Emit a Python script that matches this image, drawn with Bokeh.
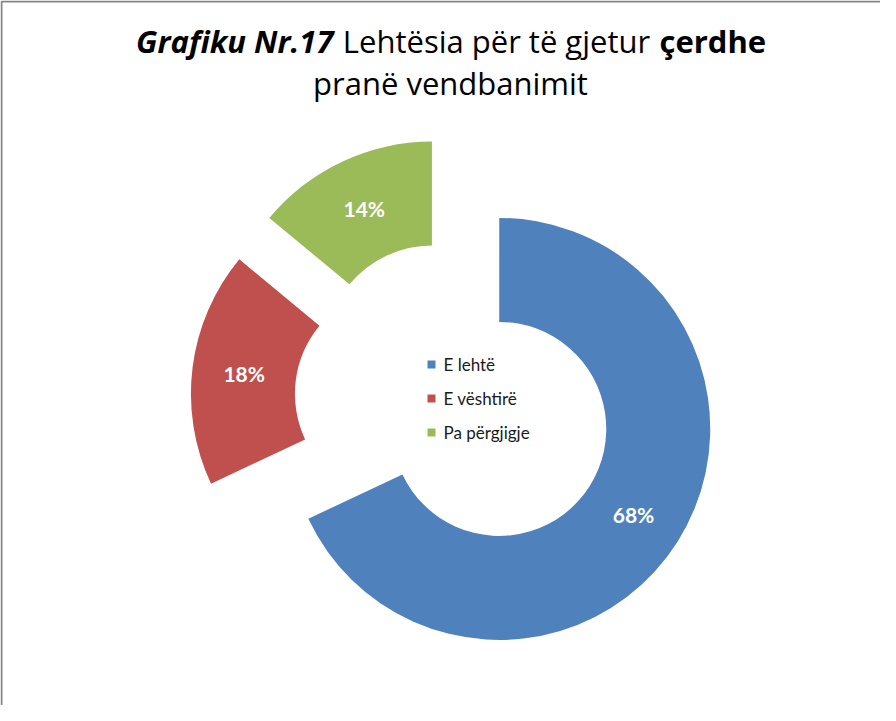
import numpy as np
from bokeh.plotting import figure
from bokeh.models import Range1d, ColumnDataSource
from bokeh.core.properties import value
from bokeh.embed import file_html
from bokeh.resources import INLINE

# ---- data ----
categories = ["E lehtë", "E vështirë", "Pa përgjigje"]
shares = [68, 18, 14]
pct_labels = ["68%", "18%", "14%"]
colors = ["#4F81BD", "#C0504D", "#9BBB59"]
title_parts = ["Grafiku Nr.17", "Lehtësia për të gjetur", "çerdhe"]
title_line2 = "pranë vendbanimit"

W, H = 880, 705
TOP = 721  # data y = TOP - screen y

p = figure(width=W, height=H, output_backend="svg", toolbar_location=None,
           x_range=Range1d(8, 8 + W), y_range=Range1d(TOP - 8 - H, TOP - 8),
           min_border=0, background_fill_color="white", border_fill_color="white")
p.axis.visible = False
p.grid.visible = False
p.outline_line_color = None

# frame (left and top edges visible)
p.line(x=[9, 9, 900], y=[0, TOP - 9, TOP - 9], line_color="#868686", line_width=2)

# ---- doughnut ----
fr = np.array(shares, dtype=float) / sum(shares)
cum = np.concatenate([[0.0], np.cumsum(fr)])
end = np.pi / 2 - 2 * np.pi * cum[:-1]
start = np.pi / 2 - 2 * np.pi * cum[1:]
mid = (start + end) / 2
CX, CY = 462, TOP - 408
D = 53
R_OUT, R_IN = 211, 107
cx = CX + D * np.cos(mid)
cy = CY + D * np.sin(mid)

src = ColumnDataSource(dict(x=cx, y=cy, start=start, end=end, color=colors,
                            lx=cx + (R_OUT + R_IN) / 2 * np.cos(mid),
                            ly=cy + (R_OUT + R_IN) / 2 * np.sin(mid),
                            lab=pct_labels))
p.annular_wedge(x="x", y="y", inner_radius=R_IN, outer_radius=R_OUT,
                inner_radius_units="screen", outer_radius_units="screen",
                start_angle="start", end_angle="end", fill_color="color",
                line_color=None, source=src)
p.text(x="lx", y="ly", text="lab", source=src, text_color="white",
       text_font=value("Lato"), text_font_style="bold", text_font_size="21px",
       text_align="center", text_baseline="middle")

# ---- legend (in the hole) ----
leg_y = [TOP - 372, TOP - 406, TOP - 440]
p.scatter(x=[439] * 3, y=leg_y, marker="square", size=8, fill_color=colors,
          line_color=None)
p.text(x=[451] * 3, y=leg_y, text=categories, text_color="#1a1a1a",
       text_font=value("Lato"), text_font_size="17px",
       text_align="left", text_baseline="middle")

# ---- title ----
TF = value("Open Sans")
TS = "31px"
ty1 = TOP - 48
ty2 = TOP - 90
p.text(x=[341], y=[ty1], text=[title_parts[0]], text_font=TF,
       text_font_style="bold italic", text_font_size=TS, text_color="black",
       text_align="right", text_baseline="alphabetic")
p.text(x=[504], y=[ty1], text=[title_parts[1]], text_font=TF,
       text_font_style="normal", text_font_size=TS, text_color="black",
       text_align="center", text_baseline="alphabetic")
p.text(x=[667], y=[ty1], text=[title_parts[2]], text_font=TF,
       text_font_style="bold", text_font_size=TS, text_color="black",
       text_align="left", text_baseline="alphabetic")
p.text(x=[458], y=[ty2], text=[title_line2], text_font=TF,
       text_font_style="normal", text_font_size=TS, text_color="black",
       text_align="center", text_baseline="alphabetic")

open("out.html", "w").write(file_html(p, INLINE))
